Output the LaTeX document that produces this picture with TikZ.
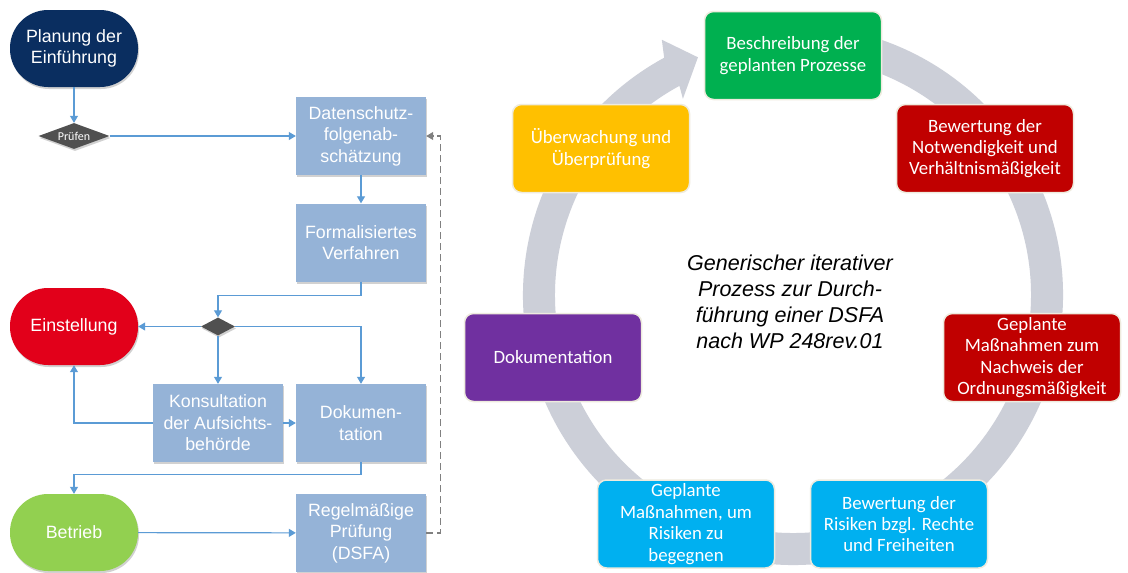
\documentclass[tikz,border=0pt]{standalone}
\usepackage{fontspec}
\setmainfont{Liberation Sans}
\newfontfamily\calibrifont{Carlito}
\usetikzlibrary{arrows.meta,shapes.geometric,shadows,calc}

% flow chart colours
\definecolor{navyterm}{RGB}{10,46,96}
\definecolor{stopred}{RGB}{226,0,26}
\definecolor{rungreen}{RGB}{146,208,80}
\definecolor{boxblue}{RGB}{149,179,215}
\definecolor{linkblue}{RGB}{91,155,213}
\definecolor{decgray}{RGB}{80,80,80}
\definecolor{dashgray}{RGB}{128,128,128}
% cycle colours
\definecolor{ringgray}{RGB}{204,207,216}
\definecolor{cream}{RGB}{238,235,222}
\definecolor{cgreen}{RGB}{0,176,80}
\definecolor{cred}{RGB}{192,0,0}
\definecolor{cblue}{RGB}{0,176,240}
\definecolor{cpurple}{RGB}{112,48,160}
\definecolor{cyellow}{RGB}{255,192,0}

\tikzset{
  softshadow/.style={drop shadow={shadow xshift=1pt, shadow yshift=-2pt, opacity=0.18, fill=black}},
  terminal/.style={rectangle, rounded corners=38pt, minimum width=128pt, minimum height=77pt,
    inner sep=0pt, align=center, text=white, font=\fontsize{17.8}{21.5}\selectfont, softshadow},
  flowbox/.style={rectangle, fill=boxblue, minimum width=130pt, minimum height=78pt,
    inner sep=0pt, align=center, text=white, font=\fontsize{17.8}{21.5}\selectfont, softshadow},
  decision/.style={diamond, fill=decgray, inner sep=0pt, softshadow},
  link/.style={draw=linkblue, line width=1.2pt, -{Triangle[length=7pt,width=8pt]}},
  dashlink/.style={draw=dashgray, line width=1.2pt, dash pattern=on 7pt off 4pt,
    -{Triangle[length=7pt,width=8pt]}},
  stagebox/.style={rectangle, rounded corners=9pt, minimum width=177pt, minimum height=88pt,
    draw=cream, line width=1.5pt, inner sep=0pt, align=center, text=white,
    font=\calibrifont\fontsize{18.8}{21.4}\selectfont},
}

\begin{document}
\begin{tikzpicture}[x=1pt, y=-1pt]
\useasboundingbox (0,0) rectangle (1128,573);
\fill[white] (0,0) rectangle (1128,573);

% ---------- flow chart ----------
\node[terminal, fill=navyterm] (plan) at (74,48.5) {Planung der\\Einführung};
\node[decision, minimum width=71pt, minimum height=26pt, aspect=2.7,
      font=\calibrifont\fontsize{12}{13}\selectfont, text=white] (pruef) at (74,136) {Prüfen};
\node[flowbox] (dsfa) at (361,136) {Datenschutz-\\folgenab-\\schätzung};
\node[flowbox] (formal) at (361,242.5) {Formalisiertes\\Verfahren};
\node[decision, minimum width=34pt, minimum height=18pt, aspect=1.9] (dec) at (218,326.5) {};
\node[terminal, fill=stopred] (stop) at (74,326.5) {Einstellung};
\node[flowbox] (kons) at (218,423) {Konsultation\\der Aufsichts-\\behörde};
\node[flowbox] (doku) at (361,423) {Dokumen-\\tation};
\node[terminal, fill=rungreen] (run) at (74,532.5) {Betrieb};
\node[flowbox] (regel) at (361,533) {Regelmäßige\\Prüfung\\(DSFA)};

\draw[link] (plan) -- (pruef);
\draw[link] (pruef) -- (dsfa);
\draw[link] (dsfa) -- (formal);
\draw[link] (formal.south) -- ++(0,14) -| (dec.north);
\draw[link] (dec.west) -- (stop.east);
\draw[link] (dec.east) -| (doku.north);
\draw[link] (dec.south) -- (kons.north);
\draw[link] (kons) -- (doku);
\draw[link] (kons.west) -| (stop.south);
\draw[link] (doku.south) -- ++(0,12) -| (run.north);
\draw[link] (run) -- (regel);
\draw[dashlink] (regel.east) -- ++(14,0) |- (dsfa.east);

% ---------- iterative cycle ----------
\coordinate (c) at (793,295);
\fill[ringgray]
  ($(c)+(-118.5:270)$) -- ($(c)+(-117.2:287)$) -- ($(c)+(-111.8:256)$)
  -- ($(c)+(-119.3:225)$) -- ($(c)+(-118.5:238)$)
  arc[start angle=-118.5, end angle=-440, radius=238]
  -- ($(c)+(-440:270)$)
  arc[start angle=-440, end angle=-118.5, radius=270] -- cycle;

\node[stagebox, fill=cgreen]  (s1) at (793,55.5)   {Beschreibung der\\geplanten Prozesse};
\node[stagebox, fill=cred]    (s2) at (985,148.5)  {Bewertung der\\Notwendigkeit und\\Verhältnismäßigkeit};
\node[stagebox, fill=cred]    (s3) at (1032,357.5) {Geplante\\Maßnahmen zum\\Nachweis der\\Ordnungsmäßigkeit};
\node[stagebox, fill=cblue]   (s4) at (899,524)    {Bewertung der\\Risiken bzgl. Rechte\\und Freiheiten};
\node[stagebox, fill=cblue]   (s5) at (686,524)    {Geplante\\Maßnahmen, um\\Risiken zu\\begegnen};
\node[stagebox, fill=cpurple] (s6) at (553,357.5)  {Dokumentation};
\node[stagebox, fill=cyellow] (s7) at (601,148.5)  {Überwachung und\\Überprüfung};

\node[align=center, font=\itshape\fontsize{21.5}{25.8}\selectfont] (title) at (790,302)
  {Generischer iterativer\\Prozess zur Durch-\\führung einer DSFA\\nach WP 248rev.01};
\end{tikzpicture}
\end{document}
